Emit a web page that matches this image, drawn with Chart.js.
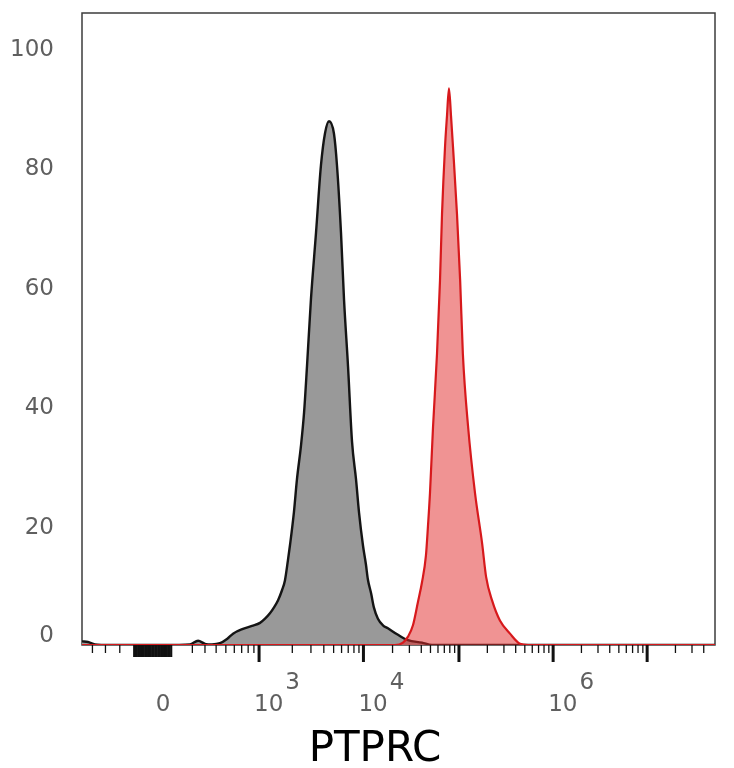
<!DOCTYPE html>
<html><head><meta charset="utf-8">
<script src="https://cdn.jsdelivr.net/npm/chart.js@4.4.1/dist/chart.umd.min.js"></script>
<style>html,body{margin:0;padding:0;background:#fff}canvas{display:block}</style>
</head><body>
<canvas id="c" width="734" height="768"></canvas>
<script>
// ---- data (fluorescence intensity on x, % of max on y) ----
const xAxisTitle = 'PTPRC';
const xRange = [-665, 52700000];
const yRange = [0, 105.7];
const yTicks = [0, 20, 40, 60, 80, 100];

const greyX = [-665, -604, -536, -400, 0, 182, 244, 300, 361, 438, 513, 584, 719, 866, 1020, 1130, 1250, 1360, 1480, 1610, 1710, 1820, 1900, 2070, 2210, 2410, 2580, 2750, 3000, 3360, 3750, 4110, 4500, 5040, 5400, 5920, 6350, 6970, 7650, 8400, 9010, 9900, 10600, 11100, 12000, 12800, 14100, 15900, 17900, 22800, 29000, 40700, 51900, 52700000];
const greyY = [0.6, 0.5, 0.1, 0, 0, 0.1, 0.7, 0.2, 0.1, 0.3, 1.0, 1.9, 2.7, 3.2, 3.7, 4.4, 5.3, 6.3, 7.5, 9.2, 10.8, 14.1, 16.6, 22.2, 27.7, 33.3, 38.9, 46.6, 57.8, 69.0, 80.2, 85.6, 87.6, 85.5, 80.2, 69.0, 57.8, 46.6, 34.0, 27.7, 22.2, 16.6, 13.5, 11.0, 8.6, 6.3, 4.4, 3.3, 2.8, 1.7, 0.8, 0.4, 0, 0];

const redX = [-665, 21200, 25700, 29000, 32700, 36900, 40700, 44800, 47100, 49400, 53200, 58600, 63000, 66200, 71200, 74700, 78400, 82400, 86500, 95300, 103000, 110000, 125000, 148000, 176000, 194000, 224000, 272000, 348000, 445000, 541000, 52700000];
const redY = [0, 0, 0.4, 1.4, 3.3, 7.2, 10.5, 15.0, 20.0, 25.4, 36.5, 48.7, 60.9, 72.1, 83.3, 88.5, 93.1, 88.5, 83.3, 72.1, 60.9, 48.7, 36.5, 25.4, 17.0, 11.4, 7.5, 4.1, 1.9, 0.2, 0, 0];

// ---- axis ticks (intensity values) ----
const majorTicks = [1e3, 1e4, 1e5, 1e6, 1e7];
const minorTicks = [-560, -440, -320, 200, 300, 400, 500, 600, 700, 800, 900,
  2000, 3000, 4000, 5000, 6000, 7000, 8000, 9000,
  20000, 30000, 40000, 50000, 60000, 70000, 80000, 90000,
  2e5, 3e5, 4e5, 5e5, 6e5, 7e5, 8e5, 9e5,
  2e6, 3e6, 4e6, 5e6, 6e6, 7e6, 8e6, 9e6,
  2e7, 3e7, 4e7];
const denseTicks = [-210, -200, -190, -180, -170, -160, -150, -140, -130, -120, -110, -100, -90, -80, -70, -60, -50, -40, -30, -20, -10, 0, 10, 20, 30, 40, 50];
const xLabelValues = [0, 1e3, 1e4, 1e6];
const xLabelBase = ['0', '10', '10', '10'];
const xLabelExp = ['', '3', '4', '6'];

// ---- biexponential (logicle-like) display transform ----
function biexS(u) { const P = 2.85, P2 = P * P; return 72.46 * (Math.pow(10, u) - P2 * Math.pow(10, -u / P) + P2 - 1); }
function toDisplay(v) { let lo = -3, hi = 9; for (let i = 0; i < 80; i++) { const m = (lo + hi) / 2; if (biexS(m) < v) lo = m; else hi = m; } return (lo + hi) / 2; }
const toPts = (xs, ys) => xs.map((x, i) => ({ x: toDisplay(x), y: ys[i] }));

const FONT = 'DejaVu Sans';
const framePlugin = {
  id: 'frame',
  beforeDatasetsDraw(chart) {
    const { ctx, chartArea: a } = chart;
    ctx.save();
    ctx.lineWidth = 1.5; ctx.strokeStyle = '#3c3c3c';
    ctx.strokeRect(a.left, a.top, a.right - a.left, a.bottom - a.top);
    ctx.restore();
  },
  afterDraw(chart) {
    const { ctx, chartArea: a, scales: { x } } = chart;
    const px = v => x.getPixelForValue(toDisplay(v));
    ctx.save();
    ctx.strokeStyle = '#111';
    const tick = (v, len, w) => { const p = px(v); ctx.lineWidth = w; ctx.beginPath(); ctx.moveTo(p, a.bottom); ctx.lineTo(p, a.bottom + len); ctx.stroke(); };
    minorTicks.forEach(v => tick(v, 8, 1.3));
    denseTicks.forEach(v => tick(v, 12, 2));
    majorTicks.forEach(v => tick(v, 17, 3));
    ctx.fillStyle = '#5f5f5f';
    ctx.font = '23px "' + FONT + '"';
    ctx.textBaseline = 'middle';
    xLabelValues.forEach((v, i) => {
      const p = px(v);
      if (!xLabelExp[i]) {
        ctx.textAlign = 'center'; ctx.fillText(xLabelBase[i], p - 1, a.bottom + 60);
      } else {
        ctx.textAlign = 'left';
        const x0 = p - 5;
        ctx.fillText(xLabelBase[i], x0, a.bottom + 60);
        const w = ctx.measureText(xLabelBase[i]).width;
        ctx.fillText(xLabelExp[i], x0 + w + 2, a.bottom + 38);
      }
    });
    // axis title
    ctx.fillStyle = '#000';
    ctx.font = '42px "' + FONT + '"';
    ctx.textAlign = 'center';
    ctx.fillText(xAxisTitle, 375, a.bottom + 105);
    ctx.restore();
  }
};

new Chart(document.getElementById('c').getContext('2d'), {
  type: 'line',
  data: {
    datasets: [
      { label: 'PTPRC', data: toPts(redX, redY), borderColor: '#d7191c', backgroundColor: 'rgba(226,40,40,0.5)', borderWidth: 2.2, fill: 'origin', pointRadius: 0, cubicInterpolationMode: 'monotone' },
      { label: 'Isotype', data: toPts(greyX, greyY), borderColor: '#141414', backgroundColor: '#999999', borderWidth: 2.4, fill: 'origin', pointRadius: 0, cubicInterpolationMode: 'monotone' }
    ]
  },
  options: {
    responsive: false, animation: false, devicePixelRatio: 1,
    layout: { padding: { left: 0, right: 19, top: 13, bottom: 0 } },
    plugins: { legend: { display: false }, tooltip: { enabled: false }, title: { display: false } },
    scales: {
      x: {
        type: 'linear', min: toDisplay(xRange[0]), max: toDisplay(xRange[1]),
        ticks: { display: false }, grid: { display: false }, border: { display: false },
        afterFit(s) { s.height = 123; s.paddingLeft = 0; s.paddingRight = 0; }
      },
      y: {
        min: yRange[0], max: yRange[1],
        afterBuildTicks(s) { s.ticks = yTicks.map(v => ({ value: v })); },
        ticks: { callback: v => v === 0 ? ['0', ''] : String(v), font: { family: FONT, size: 23, lineHeight: 1.0 }, color: '#5f5f5f', padding: 28, labelOffset: 2.5 },
        grid: { display: false, drawTicks: false }, border: { display: false },
        afterFit(s) { s.width = 82; s.paddingTop = 0; s.paddingBottom = 0; }
      }
    }
  },
  plugins: [framePlugin]
});
</script>
</body></html>
